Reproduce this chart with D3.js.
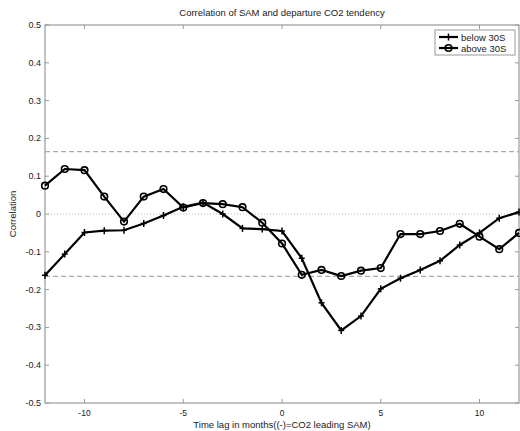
<!DOCTYPE html>
<html><head><meta charset="utf-8">
<script src="https://cdn.jsdelivr.net/npm/d3@7"></script>
<style>body{margin:0;background:#fff;} text{font-family:"Liberation Sans",Arial,sans-serif;}</style>
</head><body><svg id="c" width="520" height="431"></svg>
<script>
const lags = d3.range(-12, 13);
const below30S = [-0.162,-0.106,-0.049,-0.044,-0.043,-0.025,-0.004,0.019,0.03,0.0,-0.038,-0.04,-0.045,-0.117,-0.235,-0.308,-0.27,-0.198,-0.17,-0.148,-0.124,-0.082,-0.05,-0.011,0.005];
const above30S = [0.075,0.119,0.116,0.046,-0.02,0.046,0.066,0.017,0.029,0.026,0.018,-0.023,-0.078,-0.161,-0.148,-0.164,-0.15,-0.143,-0.053,-0.053,-0.045,-0.026,-0.06,-0.093,-0.05];
const signif = 0.165;
const xTicks = [-10,-5,0,5,10];
const yTicks = [-0.5,-0.4,-0.3,-0.2,-0.1,0,0.1,0.2,0.3,0.4,0.5];
const seriesNames = ["below 30S","above 30S"];

const svg = d3.select("#c");
const L=45,R=519,T=25,B=403;
const x = d3.scaleLinear().domain([-12,12]).range([L,R]);
const y = d3.scaleLinear().domain([-0.5,0.5]).range([B,T]);
const axisCol="#999", txtCol="#1a1a1a";

svg.append("rect").attr("x",L).attr("y",T).attr("width",R-L).attr("height",B-T)
  .attr("fill","none").attr("stroke",axisCol).attr("stroke-width",1.2);

const tl=4;
xTicks.forEach(t=>{
  svg.append("line").attr("x1",x(t)).attr("x2",x(t)).attr("y1",B).attr("y2",B-tl).attr("stroke",axisCol);
  svg.append("line").attr("x1",x(t)).attr("x2",x(t)).attr("y1",T).attr("y2",T+tl).attr("stroke",axisCol);
  svg.append("text").attr("x",x(t)).attr("y",B+12.5).attr("text-anchor","middle")
    .attr("font-size",8.5).attr("fill",txtCol).text(t<0?"-"+Math.abs(t):t);
});
yTicks.forEach(t=>{
  svg.append("line").attr("x1",L).attr("x2",L+tl).attr("y1",y(t)).attr("y2",y(t)).attr("stroke",axisCol);
  svg.append("line").attr("x1",R).attr("x2",R-tl).attr("y1",y(t)).attr("y2",y(t)).attr("stroke",axisCol);
  const s = t===0?"0":(t<0?"-":"")+String(Math.abs(t));
  svg.append("text").attr("x",L-4).attr("y",y(t)+3).attr("text-anchor","end")
    .attr("font-size",9).attr("fill",txtCol).text(s);
});

[signif,-signif].forEach(v=>{
  svg.append("line").attr("x1",L).attr("x2",R).attr("y1",y(v)).attr("y2",y(v))
    .attr("stroke","#aaa").attr("stroke-width",1.3).attr("stroke-dasharray","5,3");
});
svg.append("line").attr("x1",L).attr("x2",R).attr("y1",y(0)).attr("y2",y(0))
  .attr("stroke","#bbb").attr("stroke-width",1).attr("stroke-dasharray","1,2");

const line = d3.line().x((d,i)=>x(lags[i])).y(d=>y(d));
function plus(g,cx,cy){
  g.append("line").attr("x1",cx-3).attr("x2",cx+3).attr("y1",cy).attr("y2",cy).attr("stroke","#000").attr("stroke-width",1.5);
  g.append("line").attr("x1",cx).attr("x2",cx).attr("y1",cy-3.5).attr("y2",cy+3.5).attr("stroke","#000").attr("stroke-width",1.5);
}
function circ(g,cx,cy){
  g.append("circle").attr("cx",cx).attr("cy",cy).attr("r",3.3).attr("fill","none").attr("stroke","#000").attr("stroke-width",1.6);
}
const g = svg.append("g");
g.append("path").datum(above30S).attr("d",line).attr("fill","none").attr("stroke","#000").attr("stroke-width",2.2);
g.append("path").datum(below30S).attr("d",line).attr("fill","none").attr("stroke","#000").attr("stroke-width",2.2);
above30S.forEach((d,i)=>circ(g,x(lags[i]),y(d)));
below30S.forEach((d,i)=>plus(g,x(lags[i]),y(d)));

const lg = svg.append("g");
lg.append("rect").attr("x",435).attr("y",30).attr("width",80).attr("height",25)
  .attr("fill","#fff").attr("stroke",axisCol).attr("stroke-width",1);
[37,48].forEach((yy,i)=>{
  lg.append("line").attr("x1",439).attr("x2",458).attr("y1",yy).attr("y2",yy).attr("stroke","#000").attr("stroke-width",2.2);
  if(i===0) plus(lg,448.5,yy); else circ(lg,448.5,yy);
  lg.append("text").attr("x",461).attr("y",yy+3.5).attr("font-size",9.5).attr("fill",txtCol).text(seriesNames[i]);
});

svg.append("text").attr("x",282).attr("y",16).attr("text-anchor","middle").attr("font-size",9.5).attr("fill",txtCol)
  .text("Correlation of SAM and departure CO2 tendency");
svg.append("text").attr("x",282).attr("y",427.5).attr("text-anchor","middle").attr("font-size",9.5).attr("fill",txtCol)
  .text("Time lag in months((-)=CO2 leading SAM)");
svg.append("text").attr("transform","translate(16,214) rotate(-90)").attr("text-anchor","middle").attr("font-size",9.5).attr("fill",txtCol)
  .text("Correlation");
</script></body></html>
